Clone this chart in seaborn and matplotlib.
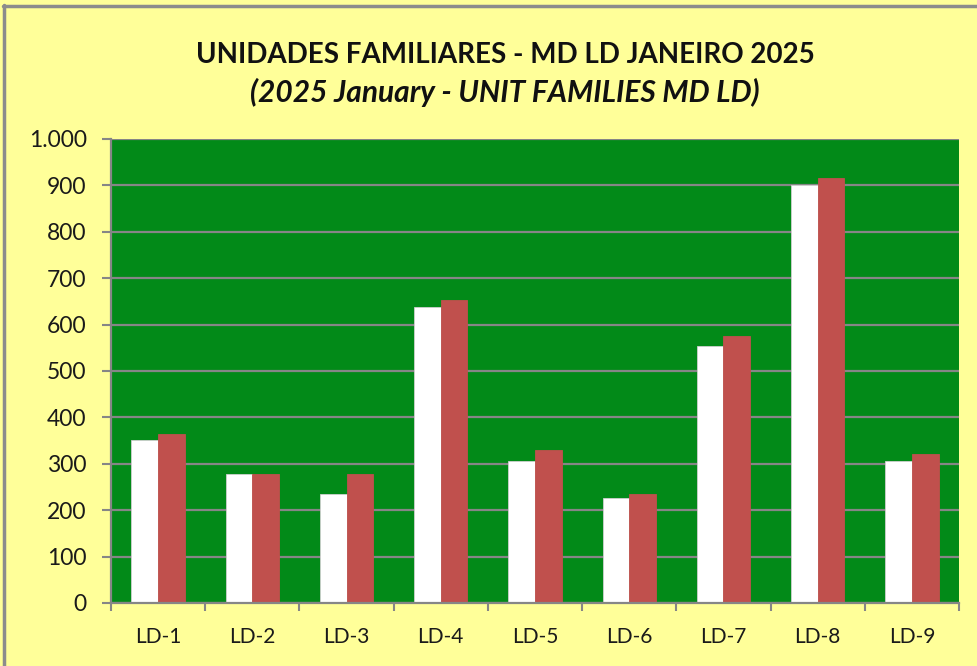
import matplotlib
matplotlib.use("Agg")
import matplotlib.pyplot as plt
import seaborn as sns
import pandas as pd
from matplotlib.ticker import FuncFormatter
from matplotlib.lines import Line2D

# Chart data
districts = ["LD-1", "LD-2", "LD-3", "LD-4", "LD-5", "LD-6", "LD-7", "LD-8", "LD-9"]
series_names = ["Série 1", "Série 2"]
values_first = [351, 277, 235, 637, 307, 227, 553, 900, 307]
values_second = [365, 279, 277, 653, 329, 235, 576, 917, 322]
y_ticks = [0, 100, 200, 300, 400, 500, 600, 700, 800, 900, 1000]

title_main = "UNIDADES FAMILIARES - MD LD JANEIRO 2025"
title_sub = "(2025 January - UNIT FAMILIES MD LD)"

df = pd.DataFrame({
    "district": districts * 2,
    "series": [series_names[0]] * len(districts) + [series_names[1]] * len(districts),
    "value": values_first + values_second,
})

sns.set_theme(style="white")
plt.rcParams["font.family"] = ["Lato", "DejaVu Sans"]

bg_yellow = "#FFFF99"
plot_green = "#028A18"
grid_gray = "#868686"
bar_red = "#C0504D"

fig = plt.figure(figsize=(9.77, 6.66), dpi=100)
fig.patch.set_facecolor(bg_yellow)
ax = fig.add_axes([0.1136, 0.0946, 0.8680, 0.6967])
ax.set_facecolor(plot_green)

sns.barplot(
    data=df, x="district", y="value", hue="series",
    palette=["#FFFFFF", bar_red], saturation=1, width=0.566, gap=0,
    edgecolor="#D0D0D0", linewidth=0.6, legend=False, ax=ax,
)
# only the white bars carry a faint outline
for p in ax.patches:
    if p.get_facecolor()[0] < 0.9 or p.get_facecolor()[1] < 0.9:
        p.set_edgecolor(p.get_facecolor())

ax.set_ylim(0, 1000)
ax.set_xlim(-0.5, len(districts) - 0.5)
ax.set_yticks(y_ticks)
ax.yaxis.set_major_formatter(FuncFormatter(lambda v, p: f"{int(v):,}".replace(",", ".")))
ax.grid(axis="y", color=grid_gray, linewidth=1.6)
ax.set_axisbelow(True)
ax.set_xlabel("")
ax.set_ylabel("")

# Category boundaries carry the x tick marks, labels sit at the centres
ax.set_xticks([i + 0.5 for i in range(-1, len(districts))], minor=False)
ax.set_xticklabels([])
ax.set_xticks(range(len(districts)), minor=True)
ax.set_xticklabels(districts, minor=True)
ax.tick_params(axis="x", which="major", length=6, width=1.5, color=grid_gray, direction="out", bottom=True)
ax.tick_params(axis="x", which="minor", length=0, pad=17, labelsize=15, labelcolor="#1A1A1A")
ax.tick_params(axis="y", length=6.5, width=1.5, color=grid_gray, direction="out", left=True,
               labelsize=16.5, labelcolor="#1A1A1A", pad=11)

for side in ["top", "right"]:
    ax.spines[side].set_visible(False)
for side in ["left", "bottom"]:
    ax.spines[side].set_color(grid_gray)
    ax.spines[side].set_linewidth(1.6)

fig.text(0.517, 0.917, title_main, ha="center", va="center", fontsize=20,
         fontweight="bold", color="#111111")
fig.text(0.517, 0.861, title_sub, ha="center", va="center", fontsize=21.5,
         fontweight="bold", fontstyle="italic", color="#111111")

# Outer chart frame (top and left edges visible)
fig.add_artist(Line2D([0.003, 1.0], [0.9910, 0.9910], transform=fig.transFigure, color="#8C8C8C", linewidth=2.5))
fig.add_artist(Line2D([0.0041, 0.0041], [0.0, 0.992], transform=fig.transFigure, color="#8C8C8C", linewidth=2.5))

fig.savefig("out.png", dpi=100, facecolor=fig.get_facecolor())
